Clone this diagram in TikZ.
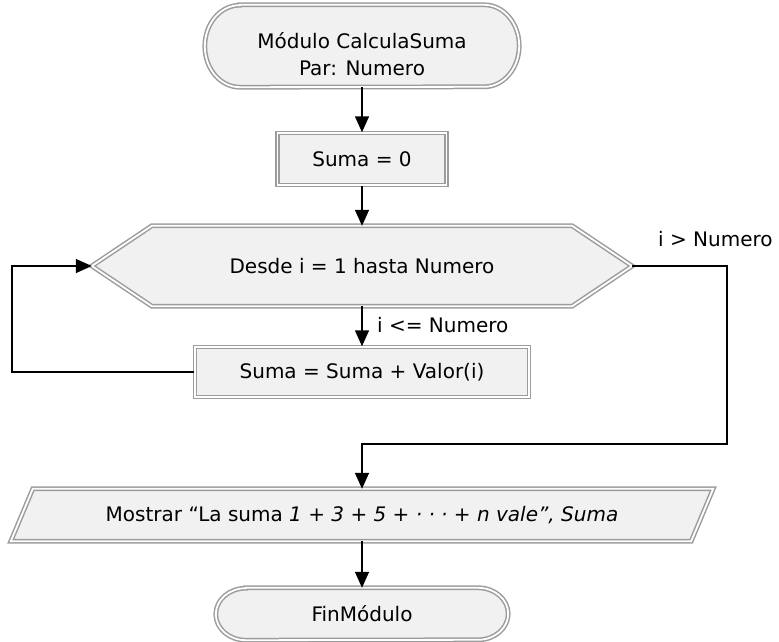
\documentclass[tikz,border=0pt]{standalone}
\usepackage{fontspec}
\setmainfont{DejaVu Sans}
\usetikzlibrary{arrows.meta,backgrounds,calc}
\definecolor{boxfill}{HTML}{F1F1F1}
\definecolor{boxline}{HTML}{9C9C9C}
\begin{document}
\begin{tikzpicture}[x=1pt,y=-1pt,
  txt/.style={font=\fontsize{20}{27}\selectfont, text=black},
  dbl/.style={draw=boxline, double=white, double distance=1.8pt, line width=1.5pt, fill=boxfill},
  shapebox/.style={txt, inner sep=0pt, align=center},
  procbox/.style={shapebox, dbl},
  lbl/.style={txt, inner sep=0pt, anchor=base west},
  conn/.style={draw=black, line width=1.5pt},
  arr/.style={conn, -{Triangle[length=16pt,width=14pt]}}]
\useasboundingbox (0,0) rectangle (779,642);

% nodes
\node[shapebox, minimum width=244, minimum height=82] (start) at (362,46) {};
\node[shapebox] (starttext) at (362,54) {Módulo CalculaSuma\\Par: Numero};
\node[procbox, minimum width=169, minimum height=52] (init) at (362,159) {Suma = 0};
\node[shapebox, minimum width=420, minimum height=80] (loop) at (362,266) {Desde i = 1 hasta Numero};
\node[procbox, minimum width=334, minimum height=50] (body) at (362,372) {Suma = Suma + Valor(i)};
\node[shapebox, minimum width=680, minimum height=52] (show) at (362,515) {Mostrar “La suma \textit{1 + 3 + 5 + · · · + n vale”, Suma}};
\node[shapebox, minimum width=232, minimum height=52] (fin) at (362,614) {FinMódulo};

\coordinate (loopL) at ($(loop.west)+(-60,0)$);
\coordinate (loopR) at ($(loop.east)+(60,0)$);

% background shapes
\begin{scope}[on background layer]
\draw[dbl] (start.north west) -- (start.north east)
  arc[start angle=90, end angle=-90, x radius=35pt, y radius=41pt]
  -- (start.south west)
  arc[start angle=270, end angle=90, x radius=35pt, y radius=41pt] -- cycle;
\draw[dbl] (loopL) -- (loop.north west) -- (loop.north east) -- (loopR)
  -- (loop.south east) -- (loop.south west) -- cycle;
\draw[dbl] ($(show.south west)+(-11,0)$) -- ($(show.north west)+(11,0)$)
  -- ($(show.north east)+(11,0)$) -- ($(show.south east)+(-11,0)$) -- cycle;
\draw[dbl] (fin.north west) -- (fin.north east)
  arc[start angle=90, end angle=-90, x radius=30pt, y radius=26pt]
  -- (fin.south west)
  arc[start angle=270, end angle=90, x radius=30pt, y radius=26pt] -- cycle;
\end{scope}

% connector corners
\coordinate (backL) at (12,372);
\coordinate (exitR) at (727,266);
\coordinate (exitD) at (727,444);
\coordinate (joinM) at (362,444);

% connectors
\draw[arr] (start.south) -- (init.north);
\draw[arr] (init.south) -- (loop.north);
\draw[arr] (loop.south) -- (body.north);
\draw[arr] (body.west) -- (backL) |- (loopL);
\draw[arr] (loopR) -- (exitR) -- (exitD) -- (joinM) -- (show.north);
\draw[arr] (show.south) -- (fin.north);

% labels
\node[lbl] (lblin) at (377,332) {i <= Numero};
\node[lbl] (lblout) at (658,246) {i > Numero};
\end{tikzpicture}
\end{document}
